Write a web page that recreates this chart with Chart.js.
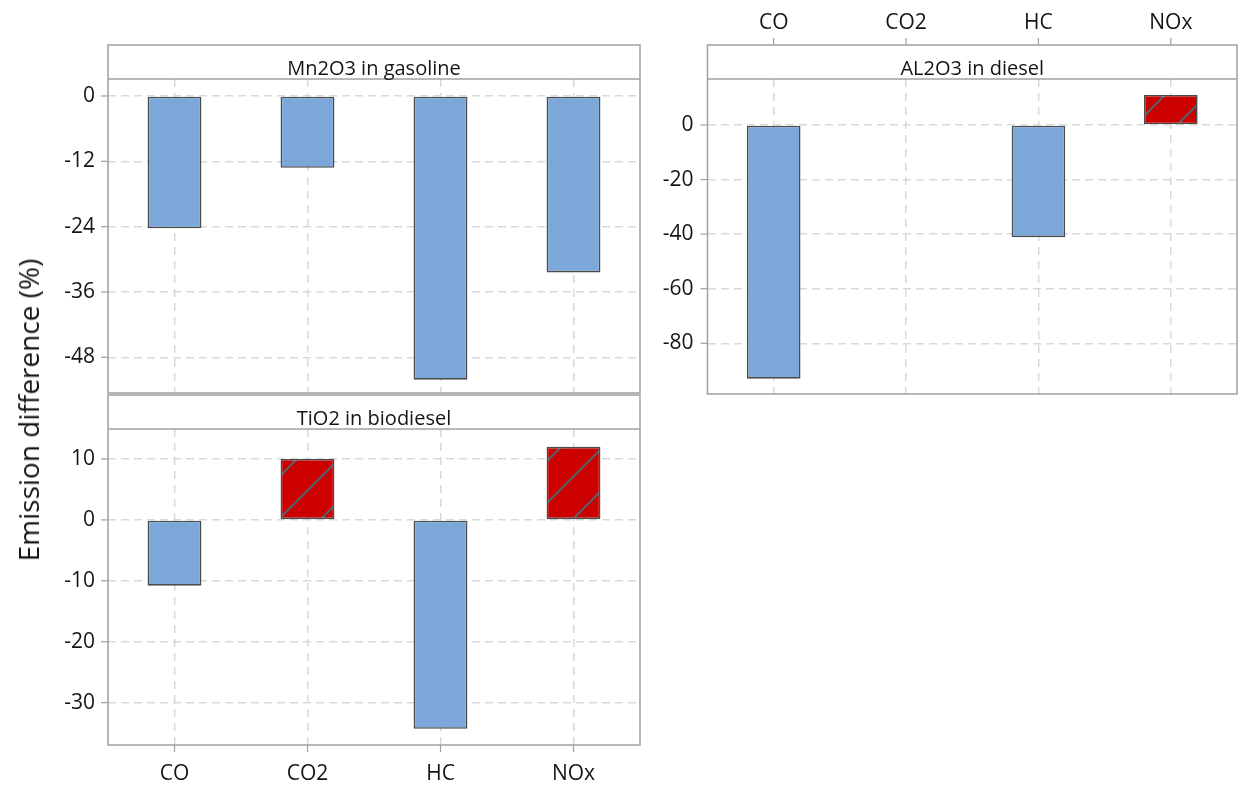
<!DOCTYPE html>
<html>
<head>
<meta charset="utf-8">
<script src="https://cdn.jsdelivr.net/npm/chart.js@4.4.1/dist/chart.umd.min.js"></script>
<style>
  html, body { margin: 0; padding: 0; background: #fff; }
  #wrap { position: relative; width: 1238px; height: 785px; overflow: hidden; }
  #wrap canvas { position: absolute; left: 0; top: 0; }
  #ytitle {
    position: absolute; left: 28px; top: 410px;
    transform: translate(-50%, -50%) rotate(-90deg);
    font: 28px "Open Sans", sans-serif; color: #151515; white-space: nowrap;
  }
</style>
</head>
<body>
<div id="wrap">
  <canvas id="mn" width="1238" height="785"></canvas>
  <canvas id="ti" width="1238" height="785"></canvas>
  <canvas id="al" width="1238" height="785"></canvas>
  <div id="ytitle">Emission difference (%)</div>
</div>
<script>
const categories = ["CO", "CO2", "HC", "NOx"];

const mn2o3Gasoline = [-24.3, -13.2, -52.1, -32.4];
const tio2Biodiesel = [-10.8, 10, -34.3, 12];
const al2o3Diesel = [-93, null, -41.1, 11];

const mnTicks = [0, -12, -24, -36, -48];
const tiTicks = [10, 0, -10, -20, -30];
const alTicks = [0, -20, -40, -60, -80];

const FONT = '"Open Sans", sans-serif';
const TEXT = "#151515";
const FRAME = "#a0a0a0";
const GRID = "#d9d9d9";
const BLUE = "#7ba7d9";

Chart.defaults.font.family = FONT;

// red fill with sparse diagonal hatching
const redHatch = (() => {
  const s = 42;
  const c = document.createElement("canvas");
  c.width = s; c.height = s;
  const g = c.getContext("2d");
  g.fillStyle = "#cc0000";
  g.fillRect(0, 0, s, s);
  g.strokeStyle = "#56616a";
  g.lineWidth = 2.2;
  [[-5, s + 5, s + 5, -5], [-5, 5, 5, -5], [s - 5, s + 5, s + 5, s - 5]].forEach(([x1, y1, x2, y2]) => {
    g.beginPath(); g.moveTo(x1, y1); g.lineTo(x2, y2); g.stroke();
  });
  return g.createPattern(c, "repeat");
})();

// panel frame, strip header and outside tick marks
const panelFrame = {
  id: "panelFrame",
  afterDraw(chart, args, opts) {
    const { ctx, chartArea: a } = chart;
    const top = opts.stripTop;
    ctx.save();
    ctx.fillStyle = "#fff";
    ctx.fillRect(a.left, top, a.right - a.left, a.top - top);
    ctx.strokeStyle = FRAME;
    ctx.lineWidth = 1.5;
    ctx.strokeRect(a.left, top, a.right - a.left, a.bottom - top);
    ctx.beginPath(); ctx.moveTo(a.left, a.top); ctx.lineTo(a.right, a.top); ctx.stroke();

    ctx.fillStyle = TEXT;
    ctx.font = "20px " + FONT;
    ctx.textAlign = "center";
    ctx.textBaseline = "alphabetic";
    ctx.fillText(opts.title, (a.left + a.right) / 2, a.top - 4);

    ctx.lineWidth = 1.2;
    const tick = (x1, y1, x2, y2) => { ctx.beginPath(); ctx.moveTo(x1, y1); ctx.lineTo(x2, y2); ctx.stroke(); };
    const ys = chart.scales.y;
    ys.ticks.forEach((t, i) => { const py = ys.getPixelForTick(i); tick(a.left - 7, py, a.left, py); });
    const xs = chart.scales.x;
    if (opts.xTicks === "bottom") xs.ticks.forEach((t, i) => { const px = xs.getPixelForTick(i); tick(px, a.bottom, px, a.bottom + 7); });
    if (opts.xTicks === "top") xs.ticks.forEach((t, i) => { const px = xs.getPixelForTick(i); tick(px, top - 7, px, top); });
    ctx.restore();
  }
};

const panel = (id, values, tickVals, cfg) => new Chart(document.getElementById(id), {
  type: "bar",
  data: {
    labels: categories,
    datasets: [{
      data: values,
      backgroundColor: (c) => (c.raw > 0 ? redHatch : BLUE),
      borderColor: "#4b4b4b",
      borderWidth: 1.6,
      borderSkipped: false,
      barPercentage: 0.405,
      categoryPercentage: 1
    }]
  },
  options: {
    responsive: false,
    animation: false,
    devicePixelRatio: 1,
    events: [],
    layout: { padding: cfg.padding },
    plugins: {
      legend: { display: false },
      tooltip: { enabled: false },
      panelFrame: { title: cfg.title, stripTop: cfg.stripTop, xTicks: cfg.xTicks }
    },
    scales: {
      x: {
        position: cfg.xPos,
        offset: true,
        afterFit: (s) => { s.height = cfg.xHeight; },
        ticks: { display: cfg.xLabels, padding: cfg.xPad, color: TEXT, font: { size: 21 } },
        grid: { offset: false, color: GRID, lineWidth: 1.5, drawTicks: false },
        border: { display: false, dash: [8, 6] }
      },
      y: {
        min: cfg.min,
        max: cfg.max,
        afterBuildTicks: (s) => { s.ticks = [...tickVals].sort((p, q) => p - q).map((v) => ({ value: v })); },
        afterFit: (s) => { s.width = cfg.yWidth; },
        ticks: { padding: cfg.yPad, color: TEXT, font: { size: 21 } },
        grid: { color: GRID, lineWidth: 1.5, drawTicks: false },
        border: { display: false, dash: [8, 5] }
      }
    }
  },
  plugins: [panelFrame]
});

panel("mn", mn2o3Gasoline, mnTicks, {
  title: "Mn2O3 in gasoline", stripTop: 45, xTicks: null,
  padding: { left: 0, top: 79, right: 598, bottom: 392 },
  xPos: "bottom", xHeight: 0, xLabels: false, xPad: 0,
  yWidth: 108, yPad: 13, min: -54.55, max: 3.12
});

panel("ti", tio2Biodiesel, tiTicks, {
  title: "TiO2 in biodiesel", stripTop: 395, xTicks: "bottom",
  padding: { left: 0, top: 429, right: 598, bottom: 0 },
  xPos: "bottom", xHeight: 40, xLabels: true, xPad: 16,
  yWidth: 108, yPad: 13, min: -36.95, max: 14.92
});

panel("al", al2o3Diesel, alTicks, {
  title: "AL2O3 in diesel", stripTop: 45, xTicks: "top",
  padding: { left: 640, top: 0, right: 1, bottom: 391 },
  xPos: "top", xHeight: 79, xLabels: true, xPad: 43,
  yWidth: 67.5, yPad: 14, min: -98.6, max: 16.86
});
</script>
</body>
</html>
